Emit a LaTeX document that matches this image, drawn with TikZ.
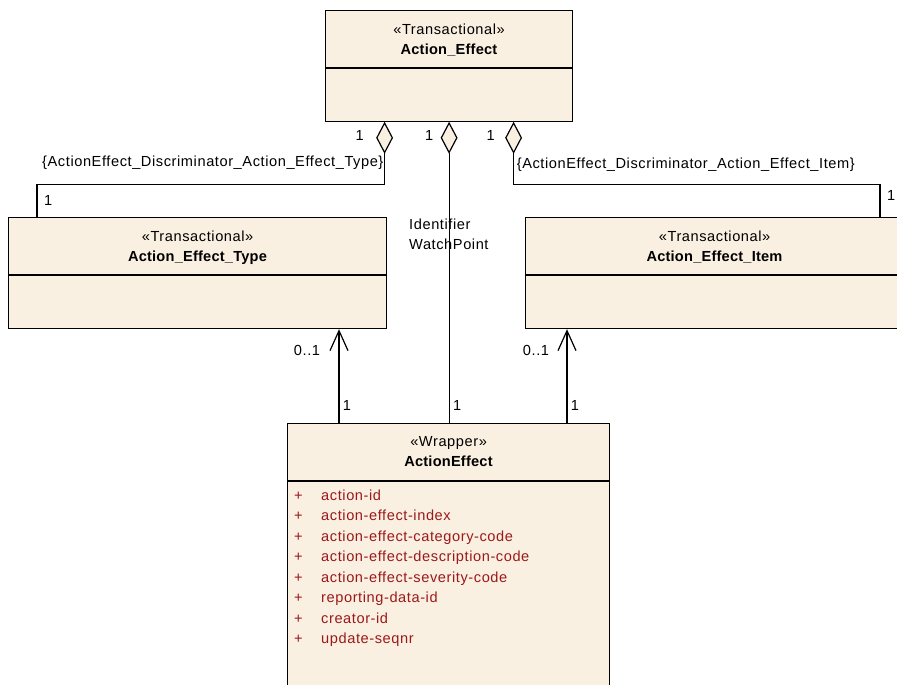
\documentclass[tikz,border=0pt]{standalone}
\usepackage{fontspec}
\setmainfont{Liberation Sans}[LetterSpace=4, BoldFeatures={LetterSpace=1.5}]
\usetikzlibrary{arrows.meta,shapes.geometric,calc,positioning}
\definecolor{klassenfarbe}{RGB}{250,240,226}
\definecolor{attributfarbe}{RGB}{155,25,25}

\begin{document}
\begin{tikzpicture}[x=1pt,y=-1pt,
    klasse/.style = {draw, fill=klassenfarbe, line width=1.2pt, anchor=north west, inner sep=0pt},
    raute/.style = {draw, fill=klassenfarbe, diamond, line width=1.2pt, inner sep=0pt, minimum width=16pt, minimum height=30pt, anchor=north},
    txt/.style = {inner sep=0pt, font=\fontsize{14.6}{20}\selectfont},
    kopf/.style = {txt, align=center, anchor=north},
    attr/.style = {txt, text=attributfarbe, anchor=base west},
    linie/.style = {line width=1.2pt},
    >={Straight Barb[length=20pt,width=18pt,line width=1.2pt]}]
    \useasboundingbox (0,0) rectangle (897,685);
    \clip (0,0) rectangle (897,685);
    \def\zeile{20.45}

    % Klassen
    \node[klasse, minimum width=247pt, minimum height=111pt] (AE) at (325,10) {};
    \node[klasse, minimum width=378pt, minimum height=111pt] (AET) at (8,217) {};
    \node[klasse, minimum width=378pt, minimum height=111pt] (AEI) at (525,217) {};
    \node[klasse, minimum width=322pt, minimum height=300pt] (AEW) at (287,423) {};

    % Trennlinien
    \foreach \k in {AE,AET,AEI,AEW}
        \draw[linie] ($(\k.north west)+(0,58)$) -- ($(\k.north east)+(0,58)$);

    % Stereotypen und Namen
    \node[kopf] (AEk) at ($(AE.north)+(0,14)$) {«Transactional»\\\textbf{Action\_Effect}};
    \node[kopf] (AETk) at ($(AET.north)+(0,13.7)$) {«Transactional»\\\textbf{Action\_Effect\_Type}};
    \node[kopf] (AEIk) at ($(AEI.north)+(0,13.7)$) {«Transactional»\\\textbf{Action\_Effect\_Item}};
    \node[kopf] (AEWk) at ($(AEW.north)+(0,13.7)$) {«Wrapper»\\\textbf{ActionEffect}};

    % Attribute
    \foreach \a [count=\i from 0] in {action-id, action-effect-index, action-effect-category-code,
        action-effect-description-code, action-effect-severity-code, reporting-data-id, creator-id, update-seqnr} {
        \node[attr, anchor=base] (p\i) at ($(AEW.north west)+(11.5,77.5+\zeile*\i)$) {+};
        \node[attr] (a\i) at ($(AEW.north west)+(34,77.5+\zeile*\i)$) {\a};
    }

    % Aggregationen
    \node[raute] (dT) at ($(AE.south)+(-64.5,0)$) {};
    \node[raute] (dM) at (AE.south) {};
    \node[raute] (dI) at ($(AE.south)+(64.5,0)$) {};
    \coordinate (tT) at ($(AET.north west)+(29,0)$);
    \coordinate (tI) at ($(AEI.north west)+(355,0)$);
    \draw[linie] (dT.south) -- ++(0,31) -| (tT);
    \draw[linie] (dI.south) -- ++(0,31) -| (tI);
    \draw[linie] (dM.south) -- (dM.south |- AEW.north);

    % Gerichtete Assoziationen
    \coordinate (wT) at ($(AEW.north west)+(52,0)$);
    \coordinate (wI) at ($(AEW.north west)+(280,0)$);
    \draw[linie,->] (wT) -- (wT |- AET.south);
    \draw[linie,->] (wI) -- (wI |- AEI.south);

    % Multiplizitaeten
    \node[txt] (m1) at ($(dT)+(-25,-2)$) {1};
    \node[txt] (m2) at ($(dM)+(-20,-2)$) {1};
    \node[txt] (m3) at ($(dI)+(-23,-2)$) {1};
    \node[txt, anchor=west] (m4) at ($(tT)+(7,-17)$) {1};
    \node[txt, anchor=west] (m5) at ($(tI)+(7,-22)$) {1};
    \node[txt] (m6) at ($(wT |- AET.south)+(-32,21)$) {0..1};
    \node[txt] (m7) at ($(wI |- AEI.south)+(-31,21)$) {0..1};
    \node[txt] (m8) at ($(wT)+(8,-18)$) {1};
    \node[txt] (m9) at ($(dM.south |- AEW.north)+(8,-18)$) {1};
    \node[txt] (m10) at ($(wI)+(8,-18)$) {1};

    % Rollen und Bedingungen
    \node[txt, anchor=east] (cT) at ($(dT.south)+(-1,9)$) {\{ActionEffect\_Discriminator\_Action\_Effect\_Type\}};
    \node[txt, anchor=west] (cI) at ($(dI.south)+(3,11)$) {\{ActionEffect\_Discriminator\_Action\_Effect\_Item\}};
    \node[txt, align=left, anchor=north west] (rolle) at (409,218.3) {Identifier\\WatchPoint};
\end{tikzpicture}
\end{document}
